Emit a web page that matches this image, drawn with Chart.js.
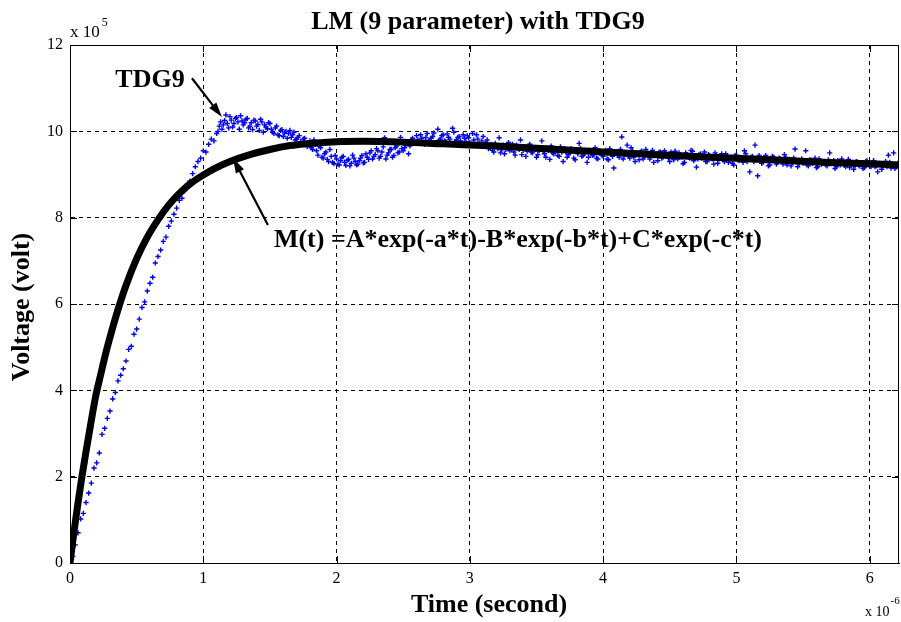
<!DOCTYPE html>
<html>
<head>
<meta charset="utf-8">
<script src="https://cdn.jsdelivr.net/npm/chart.js@4.4.1/dist/chart.umd.min.js"></script>
<style>
  html, body { margin: 0; padding: 0; background: #fff; }
  canvas { display: block; }
</style>
</head>
<body>
<canvas id="lmChart" width="901" height="622"></canvas>
<script>
// time in microseconds, voltage in units of 1e5 volt
const blueTime = [
  0, 0.02, 0.04, 0.06, 0.08, 0.1, 0.12, 0.14, 0.16, 0.18,
  0.2, 0.22, 0.24, 0.26, 0.28, 0.3, 0.32, 0.34, 0.36, 0.38,
  0.4, 0.42, 0.44, 0.46, 0.48, 0.5, 0.52, 0.54, 0.56, 0.58,
  0.6, 0.62, 0.64, 0.66, 0.68, 0.7, 0.72, 0.74, 0.76, 0.78,
  0.8, 0.82, 0.84, 0.86, 0.88, 0.9, 0.92, 0.94, 0.96, 0.98,
  1.0, 1.02, 1.04, 1.06, 1.08, 1.1, 1.12, 1.14, 1.16, 1.18,
  1.2, 1.22, 1.24, 1.26, 1.28, 1.3, 1.32, 1.34, 1.36, 1.38,
  1.4, 1.42, 1.44, 1.46, 1.48, 1.5, 1.52, 1.54, 1.56, 1.58,
  1.6, 1.62, 1.64, 1.66, 1.68, 1.7, 1.72, 1.74, 1.76, 1.78,
  1.8, 1.82, 1.84, 1.86, 1.88, 1.9, 1.92, 1.94, 1.96, 1.98,
  2.0, 2.02, 2.04, 2.06, 2.08, 2.1, 2.12, 2.14, 2.16, 2.18,
  2.2, 2.22, 2.24, 2.26, 2.28, 2.3, 2.32, 2.34, 2.36, 2.38,
  2.4, 2.42, 2.44, 2.46, 2.48, 2.5, 2.52, 2.54, 2.56, 2.58,
  2.6, 2.62, 2.64, 2.66, 2.68, 2.7, 2.72, 2.74, 2.76, 2.78,
  2.8, 2.82, 2.84, 2.86, 2.88, 2.9, 2.92, 2.94, 2.96, 2.98,
  3.0, 3.02, 3.04, 3.06, 3.08, 3.1, 3.12, 3.14, 3.16, 3.18,
  3.2, 3.22, 3.24, 3.26, 3.28, 3.3, 3.32, 3.34, 3.36, 3.38,
  3.4, 3.42, 3.44, 3.46, 3.48, 3.5, 3.52, 3.54, 3.56, 3.58,
  3.6, 3.62, 3.64, 3.66, 3.68, 3.7, 3.72, 3.74, 3.76, 3.78,
  3.8, 3.82, 3.84, 3.86, 3.88, 3.9, 3.92, 3.94, 3.96, 3.98,
  4.0, 4.02, 4.04, 4.06, 4.08, 4.1, 4.12, 4.14, 4.16, 4.18,
  4.2, 4.22, 4.24, 4.26, 4.28, 4.3, 4.32, 4.34, 4.36, 4.38,
  4.4, 4.42, 4.44, 4.46, 4.48, 4.5, 4.52, 4.54, 4.56, 4.58,
  4.6, 4.62, 4.64, 4.66, 4.68, 4.7, 4.72, 4.74, 4.76, 4.78,
  4.8, 4.82, 4.84, 4.86, 4.88, 4.9, 4.92, 4.94, 4.96, 4.98,
  5.0, 5.02, 5.04, 5.06, 5.08, 5.1, 5.12, 5.14, 5.16, 5.18,
  5.2, 5.22, 5.24, 5.26, 5.28, 5.3, 5.32, 5.34, 5.36, 5.38,
  5.4, 5.42, 5.44, 5.46, 5.48, 5.5, 5.52, 5.54, 5.56, 5.58,
  5.6, 5.62, 5.64, 5.66, 5.68, 5.7, 5.72, 5.74, 5.76, 5.78,
  5.8, 5.82, 5.84, 5.86, 5.88, 5.9, 5.92, 5.94, 5.96, 5.98,
  6.0, 6.02, 6.04, 6.06, 6.08, 6.1, 6.12, 6.14, 6.16, 6.18,
  6.2, 6.22
];
const blueVolt = [
  0.02, 0.15, 0.42, 0.70, 1.02, 1.15, 1.40, 1.62, 1.85, 2.20,
  2.32, 2.55, 2.98, 3.12, 3.35, 3.52, 3.80, 3.95, 4.22, 4.35,
  4.50, 4.68, 4.95, 5.02, 5.30, 5.42, 5.65, 5.92, 6.05, 6.30,
  6.48, 6.62, 6.95, 7.10, 7.25, 7.45, 7.55, 7.80, 7.92, 8.08,
  8.22, 8.40, 8.45, 8.62, 8.78, 8.85, 9.02, 9.18, 9.30, 9.38,
  9.55, 9.52, 9.70, 9.82, 9.78, 9.95, 10.12, 10.05, 10.25, 10.18,
  10.34, 10.10, 10.30, 10.22, 10.36, 10.15, 10.28, 10.08, 10.20, 10.26,
  10.12, 10.02, 10.22, 10.15, 10.06, 10.18, 9.98, 10.08, 9.92, 10.02,
  9.88, 10.00, 9.95, 9.86, 9.98, 9.82, 9.90, 9.72, 9.84, 9.65,
  9.78, 9.58, 9.70, 9.45, 9.62, 9.38, 9.52, 9.30, 9.42, 9.25,
  9.36, 9.22, 9.40, 9.28, 9.33, 9.20, 9.45, 9.30, 9.24, 9.38,
  9.27, 9.48, 9.35, 9.55, 9.42, 9.60, 9.38, 9.52, 9.85, 9.45,
  9.58, 9.40, 9.62, 9.50, 9.86, 9.55, 9.68, 9.48, 9.80, 9.72,
  9.90, 9.76, 9.84, 9.70, 9.95, 9.78, 9.88, 9.74, 10.05, 9.82,
  9.92, 9.76, 9.86, 9.70, 9.98, 9.80, 9.88, 9.72, 9.84, 9.90,
  9.74, 9.95, 9.70, 9.82, 9.66, 9.88, 9.75, 9.60, 9.70, 9.52,
  9.66, 9.85, 9.58, 9.48, 9.64, 9.55, 9.70, 9.45, 9.62, 9.80,
  9.56, 9.42, 9.66, 9.52, 9.60, 9.40, 9.55, 9.78, 9.48, 9.62,
  9.35, 9.50, 9.58, 9.44, 9.64, 9.30, 9.52, 9.46, 9.60, 9.38,
  9.55, 9.72, 9.42, 9.50, 9.28, 9.56, 9.44, 9.62, 9.36, 9.50,
  9.42, 9.56, 9.34, 9.48, 9.15, 9.52, 9.40, 9.87, 9.45, 9.68,
  9.38, 9.55, 9.30, 9.48, 9.52, 9.36, 9.58, 9.44, 9.50, 9.28,
  9.46, 9.52, 9.38, 9.55, 9.42, 9.30, 9.48, 9.54, 9.36, 9.45,
  9.25, 9.50, 9.40, 9.56, 9.32, 9.17, 9.46, 9.38, 9.52, 9.30,
  9.44, 9.36, 9.50, 9.26, 9.42, 9.34, 9.48, 9.28, 9.40, 9.22,
  9.45, 9.32, 9.38, 9.55, 9.30, 9.06, 9.42, 9.68, 8.97, 9.36,
  9.28, 9.44, 9.20, 9.34, 9.40, 9.24, 9.38, 9.30, 9.46, 9.22,
  9.35, 9.28, 9.59, 9.18, 9.32, 9.26, 9.55, 9.20, 9.34, 9.28,
  9.16, 9.36, 9.24, 9.30, 9.20, 9.50, 9.26, 9.14, 9.32, 9.22,
  9.28, 9.18, 9.35, 9.24, 9.12, 9.30, 9.20, 9.26, 9.16, 9.32,
  9.22, 9.28, 9.18, 9.06, 9.25, 9.20, 9.30, 9.45, 9.15, 9.50,
  9.18, 9.24
];
// the samples in between, from the overshoot onward
const blueTimeMid = [
  1.11, 1.13, 1.15, 1.17, 1.19, 1.21, 1.23, 1.25, 1.27, 1.29,
  1.31, 1.33, 1.35, 1.37, 1.39, 1.41, 1.43, 1.45, 1.47, 1.49,
  1.51, 1.53, 1.55, 1.57, 1.59, 1.61, 1.63, 1.65, 1.67, 1.69,
  1.71, 1.73, 1.75, 1.77, 1.79, 1.81, 1.83, 1.85, 1.87, 1.89,
  1.91, 1.93, 1.95, 1.97, 1.99, 2.01, 2.03, 2.05, 2.07, 2.09,
  2.11, 2.13, 2.15, 2.17, 2.19, 2.21, 2.23, 2.25, 2.27, 2.29,
  2.31, 2.33, 2.35, 2.37, 2.39, 2.41, 2.43, 2.45, 2.47, 2.49,
  2.51, 2.53, 2.55, 2.57, 2.59, 2.61, 2.63, 2.65, 2.67, 2.69,
  2.71, 2.73, 2.75, 2.77, 2.79, 2.81, 2.83, 2.85, 2.87, 2.89,
  2.91, 2.93, 2.95, 2.97, 2.99, 3.01, 3.03, 3.05, 3.07, 3.09,
  3.11, 3.13, 3.15, 3.17, 3.19, 3.21, 3.23, 3.25, 3.27, 3.29,
  3.31, 3.33, 3.35, 3.37, 3.39, 3.41, 3.43, 3.45, 3.47, 3.49,
  3.51, 3.53, 3.55, 3.57, 3.59, 3.61, 3.63, 3.65, 3.67, 3.69,
  3.71, 3.73, 3.75, 3.77, 3.79, 3.81, 3.83, 3.85, 3.87, 3.89,
  3.91, 3.93, 3.95, 3.97, 3.99, 4.01, 4.03, 4.05, 4.07, 4.09,
  4.11, 4.13, 4.15, 4.17, 4.19, 4.21, 4.23, 4.25, 4.27, 4.29,
  4.31, 4.33, 4.35, 4.37, 4.39, 4.41, 4.43, 4.45, 4.47, 4.49,
  4.51, 4.53, 4.55, 4.57, 4.59, 4.61, 4.63, 4.65, 4.67, 4.69,
  4.71, 4.73, 4.75, 4.77, 4.79, 4.81, 4.83, 4.85, 4.87, 4.89,
  4.91, 4.93, 4.95, 4.97, 4.99, 5.01, 5.03, 5.05, 5.07, 5.09,
  5.11, 5.13, 5.15, 5.17, 5.19, 5.21, 5.23, 5.25, 5.27, 5.29,
  5.31, 5.33, 5.35, 5.37, 5.39, 5.41, 5.43, 5.45, 5.47, 5.49,
  5.51, 5.53, 5.55, 5.57, 5.59, 5.61, 5.63, 5.65, 5.67, 5.69,
  5.71, 5.73, 5.75, 5.77, 5.79, 5.81, 5.83, 5.85, 5.87, 5.89,
  5.91, 5.93, 5.95, 5.97, 5.99, 6.01, 6.03, 6.05, 6.07, 6.09,
  6.11, 6.13, 6.15, 6.17, 6.19, 6.21
];
const blueVoltMid = [
  10.00, 10.22, 10.15, 10.38, 10.08, 10.26, 10.18, 10.32, 10.05, 10.24,
  10.20, 10.30, 10.12, 10.04, 10.24, 10.16, 10.28, 9.98, 10.10, 10.20,
  10.05, 9.95, 10.12, 9.90, 10.04, 9.96, 9.84, 10.02, 9.92, 9.80,
  9.86, 9.76, 9.82, 9.70, 9.74, 9.62, 9.80, 9.55, 9.66, 9.40,
  9.48, 9.35, 9.58, 9.28, 9.44, 9.24, 9.32, 9.42, 9.21, 9.35,
  9.26, 9.38, 9.22, 9.32, 9.44, 9.28, 9.40, 9.50, 9.36, 9.46,
  9.55, 9.42, 9.64, 9.36, 9.50, 9.58, 9.44, 9.66, 9.52, 9.60,
  9.62, 9.76, 9.66, 9.84, 9.74, 9.80, 9.92, 9.72, 9.86, 9.78,
  9.84, 9.96, 9.74, 9.80, 9.90, 9.78, 9.94, 9.82, 10.07, 9.76,
  9.86, 9.78, 9.92, 9.76, 9.85, 9.68, 9.80, 9.92, 9.72, 9.78,
  9.68, 9.80, 9.62, 9.56, 9.72, 9.60, 9.50, 9.68, 9.58, 9.74,
  9.60, 9.52, 9.68, 9.58, 9.46, 9.64, 9.54, 9.70, 9.50, 9.58,
  9.46, 9.62, 9.54, 9.40, 9.56, 9.66, 9.48, 9.58, 9.42, 9.52,
  9.60, 9.40, 9.50, 9.56, 9.34, 9.48, 9.60, 9.44, 9.55, 9.40,
  9.52, 9.46, 9.38, 9.54, 9.45, 9.50, 9.36, 9.60, 9.42, 9.50,
  9.46, 9.58, 9.36, 9.50, 9.42, 9.62, 9.40, 9.47, 9.34, 9.54,
  9.42, 9.50, 9.36, 9.56, 9.45, 9.32, 9.52, 9.40, 9.47, 9.38,
  9.52, 9.34, 9.44, 9.50, 9.40, 9.28, 9.46, 9.38, 9.54, 9.42,
  9.36, 9.48, 9.42, 9.30, 9.46, 9.38, 9.24, 9.44, 9.36, 9.48,
  9.30, 9.42, 9.36, 9.26, 9.44, 9.34, 9.40, 9.28, 9.48, 9.35,
  9.40, 9.30, 9.36, 9.44, 9.26, 9.38, 9.32, 9.22, 9.42, 9.34,
  9.28, 9.36, 9.24, 9.40, 9.32, 9.20, 9.38, 9.30, 9.26, 9.36,
  9.30, 9.22, 9.34, 9.26, 9.38, 9.18, 9.32, 9.28, 9.22, 9.34,
  9.25, 9.32, 9.18, 9.28, 9.36, 9.22, 9.30, 9.16, 9.26, 9.20,
  9.28, 9.22, 9.14, 9.30, 9.24, 9.18, 9.32, 9.20, 9.26, 9.12,
  9.24, 9.18, 9.28, 9.20, 9.14, 9.26
];

// fitted model M(t)
const fitTime = [0, 0.02, 0.04, 0.06, 0.09, 0.12, 0.15, 0.19, 0.23, 0.27, 0.31, 0.36, 0.42, 0.5,
  0.58, 0.66, 0.74, 0.82, 0.9, 0.98, 1.08, 1.2, 1.35, 1.5, 1.65, 1.8, 2.0, 2.2, 2.5, 2.8,
  3.2, 3.6, 4.0, 4.4, 4.8, 5.2, 5.6, 6.0, 6.22];
const fitVolt = [0, 0.49, 0.95, 1.39, 2.01, 2.58, 3.12, 3.82, 4.36, 4.88, 5.34, 5.87, 6.43, 7.05,
  7.55, 7.95, 8.29, 8.56, 8.78, 8.95, 9.13, 9.30, 9.46, 9.58, 9.67, 9.72, 9.76, 9.77, 9.75, 9.71,
  9.66, 9.59, 9.52, 9.46, 9.40, 9.35, 9.29, 9.25, 9.22];

const xTicks = [0, 1, 2, 3, 4, 5, 6];
const yTicks = [0, 2, 4, 6, 8, 10, 12];

const serif = '"Liberation Serif", "Times New Roman", serif';

function pairs(xs, ys) {
  return xs.map((v, i) => ({ x: v, y: ys[i] }));
}

function arrow(ctx, x1, y1, x2, y2) {
  const ang = Math.atan2(y2 - y1, x2 - x1);
  const len = 15, half = 4.5;
  ctx.beginPath();
  ctx.moveTo(x1, y1);
  ctx.lineTo(x2 - Math.cos(ang) * len * 0.8, y2 - Math.sin(ang) * len * 0.8);
  ctx.lineWidth = 2.2;
  ctx.stroke();
  ctx.beginPath();
  ctx.moveTo(x2, y2);
  ctx.lineTo(x2 - Math.cos(ang) * len + Math.sin(ang) * half, y2 - Math.sin(ang) * len - Math.cos(ang) * half);
  ctx.lineTo(x2 - Math.cos(ang) * len - Math.sin(ang) * half, y2 - Math.sin(ang) * len + Math.cos(ang) * half);
  ctx.closePath();
  ctx.fill();
}

const matlabDecor = {
  id: 'matlabDecor',
  afterDraw(chart) {
    const { ctx, chartArea: a, scales } = chart;
    const sx = scales.x, sy = scales.y;
    ctx.save();
    ctx.strokeStyle = '#000';
    ctx.fillStyle = '#000';

    // axes box
    ctx.lineWidth = 1;
    ctx.beginPath();
    ctx.rect(Math.round(a.left) + 0.5, Math.round(a.top) + 0.5,
      Math.round(a.right - a.left) - 1, Math.round(a.bottom - a.top));
    ctx.stroke();

    // inward tick marks
    ctx.beginPath();
    xTicks.forEach(v => {
      const px = Math.round(sx.getPixelForValue(v)) + 0.5;
      ctx.moveTo(px, a.bottom); ctx.lineTo(px, a.bottom - 7);
      ctx.moveTo(px, a.top); ctx.lineTo(px, a.top + 7);
    });
    yTicks.forEach(v => {
      const py = Math.round(sy.getPixelForValue(v)) + 0.5;
      ctx.moveTo(a.left, py); ctx.lineTo(a.left + 7, py);
      ctx.moveTo(a.right, py); ctx.lineTo(a.right - 7, py);
    });
    ctx.stroke();

    // title
    ctx.textBaseline = 'middle';
    ctx.textAlign = 'center';
    ctx.font = 'bold 26px ' + serif;
    ctx.fillText('LM (9 parameter) with TDG9', 478, 22);

    // axis labels
    ctx.fillText('Time (second)', 489, 605);
    ctx.save();
    ctx.translate(22, 307);
    ctx.rotate(-Math.PI / 2);
    ctx.fillText('Voltage (volt)', 0, 0);
    ctx.restore();

    // exponent labels
    ctx.textAlign = 'left';
    ctx.font = '17px ' + serif;
    ctx.fillText('x 10', a.left, 33);
    let w = ctx.measureText('x 10').width;
    ctx.font = '12px ' + serif;
    ctx.fillText('5', a.left + w + 2, 23);
    ctx.font = '14px ' + serif;
    ctx.fillText('x 10', 865, 612);
    w = ctx.measureText('x 10').width;
    ctx.font = '11px ' + serif;
    ctx.fillText('-6', 865 + w + 1, 601);

    // annotations
    ctx.font = 'bold 26px ' + serif;
    ctx.fillText('TDG9', sx.getPixelForValue(0.34), sy.getPixelForValue(11.19));
    ctx.fillText('M(t) =A*exp(-a*t)-B*exp(-b*t)+C*exp(-c*t)',
      sx.getPixelForValue(1.53), sy.getPixelForValue(7.48));
    arrow(ctx, sx.getPixelForValue(0.915), sy.getPixelForValue(11.23),
      sx.getPixelForValue(1.14), sy.getPixelForValue(10.33));
    arrow(ctx, sx.getPixelForValue(1.485), sy.getPixelForValue(7.83),
      sx.getPixelForValue(1.223), sy.getPixelForValue(9.38));

    ctx.restore();
  }
};

new Chart(document.getElementById('lmChart').getContext('2d'), {
  type: 'scatter',
  data: {
    datasets: [{
      label: 'M(t)',
      data: pairs(fitTime, fitVolt),
      showLine: true,
      borderColor: '#000',
      borderWidth: 7,
      pointRadius: 0,
      cubicInterpolationMode: 'monotone',
      borderCapStyle: 'round'
    }, {
      label: 'TDG9',
      data: pairs(blueTime, blueVolt).concat(pairs(blueTimeMid, blueVoltMid)),
      showLine: false,
      pointStyle: 'cross',
      pointRadius: 2.6,
      borderWidth: 1.4,
      borderColor: '#0000ff',
      backgroundColor: '#0000ff'
    }]
  },
  options: {
    responsive: false,
    animation: false,
    layout: { autoPadding: false, padding: { top: 45, right: 2, left: 0, bottom: 0 } },
    plugins: {
      legend: { display: false },
      tooltip: { enabled: false },
      title: { display: false }
    },
    scales: {
      x: {
        type: 'linear',
        min: 0,
        max: 6.22,
        afterFit: s => { s.height = 59; },
        afterBuildTicks: s => { s.ticks = xTicks.map(v => ({ value: v })); },
        ticks: {
          padding: 6,
          color: '#000',
          font: { family: serif, size: 16 },
          callback: v => String(v)
        },
        grid: { color: '#000', lineWidth: 1, drawTicks: false },
        border: { display: true, color: '#000', width: 1, dash: [4, 4] }
      },
      y: {
        type: 'linear',
        min: 0,
        max: 12,
        afterFit: s => { s.width = 70; },
        afterBuildTicks: s => { s.ticks = yTicks.map(v => ({ value: v })); },
        ticks: {
          padding: 7,
          color: '#000',
          font: { family: serif, size: 16 },
          callback: v => String(v)
        },
        grid: { color: '#000', lineWidth: 1, drawTicks: false },
        border: { display: true, color: '#000', width: 1, dash: [4, 4] }
      }
    }
  },
  plugins: [matlabDecor]
});
</script>
</body>
</html>
